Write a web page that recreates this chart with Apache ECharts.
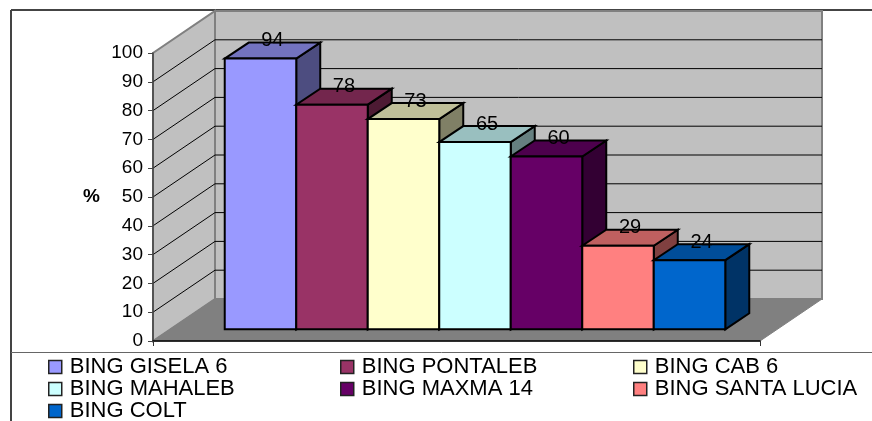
<!DOCTYPE html>
<html><head><meta charset="utf-8">
<style>html,body{margin:0;padding:0;background:#fff}#c{width:872px;height:421px}</style>
<script src="https://cdn.jsdelivr.net/npm/echarts@6/dist/echarts.min.js"></script>
</head><body><div id="c"></div>
<script>
const categories = ['Portainjertos'];
const seriesNames = ['BING GISELA 6','BING PONTALEB','BING CAB 6','BING MAHALEB','BING MAXMA 14','BING SANTA LUCIA','BING COLT'];
const seriesValues = [94,78,73,65,60,29,24];
const seriesColors = ['#9999FF','#993366','#FFFFCC','#CCFFFF','#660066','#FF8080','#0066CC'];
const yTicks = [0,10,20,30,40,50,60,70,80,90,100];
const legendColumns = [[0,3,6],[1,4],[2,5]];

const FONT = '"Liberation Sans", Arial, sans-serif';
const WALL = {dx:62, dy:-42};
const BAR = {dx:24, dy:-16, front:{dx:18.5, dy:-11.7}, ratio:0.1178};

function shade(hex,f){
  const c = echarts.color.parse(hex);
  return `rgb(${Math.round(c[0]*f)},${Math.round(c[1]*f)},${Math.round(c[2]*f)})`;
}
const bw = {stroke:'#000', lineWidth:2, lineJoin:'miter'};

function renderWalls(params, api){
  const size = api.size([1,0])[0];
  const o = api.coord([0,0]);
  const x0 = o[0]-size/2, x1 = o[0]+size/2, y0 = o[1];
  const top = api.coord([0,100])[1];
  const d = WALL;
  const kids = [];
  kids.push({type:'polygon',shape:{points:[[x0,y0],[x0+d.dx,y0+d.dy],[x0+d.dx,top+d.dy],[x0,top]]},style:{fill:'#C0C0C0',stroke:'#808080',lineWidth:2}});
  kids.push({type:'polygon',shape:{points:[[x0+d.dx,y0+d.dy],[x1+d.dx,y0+d.dy],[x1+d.dx,top+d.dy],[x0+d.dx,top+d.dy]]},style:{fill:'#C0C0C0',stroke:'#808080',lineWidth:2}});
  kids.push({type:'polygon',shape:{points:[[x0,y0],[x1,y0],[x1+d.dx,y0+d.dy],[x0+d.dx,y0+d.dy]]},style:{fill:'#808080',stroke:'#808080',lineWidth:1}});
  yTicks.forEach(t=>{
    if(t===0||t===100) return;
    const y = api.coord([0,t])[1];
    kids.push({type:'polyline',shape:{points:[[x0,y],[x0+d.dx,y+d.dy],[x1+d.dx,y+d.dy]]},style:{fill:null,stroke:'#000',lineWidth:1}});
  });
  return {type:'group',children:kids};
}

function barRenderer(i){
  return function(params, api){
    const band = api.size([1,0])[0];
    const w = band*BAR.ratio;
    const n = seriesValues.length;
    const c = api.coord([0,0])[0];
    const x = c - n*w/2 + i*w + BAR.front.dx;
    const yb = api.coord([0,0])[1] + BAR.front.dy;
    const yt = api.coord([0,api.value(1)])[1] + BAR.front.dy;
    const col = seriesColors[i];
    const dx = BAR.dx, dy = BAR.dy;
    return {type:'group',children:[
      {type:'polygon',shape:{points:[[x+w,yb],[x+w+dx,yb+dy],[x+w+dx,yt+dy],[x+w,yt]]},style:{fill:shade(col,0.5),...bw}},
      {type:'polygon',shape:{points:[[x,yt],[x+w,yt],[x+w+dx,yt+dy],[x+dx,yt+dy]]},style:{fill:shade(col,0.75),...bw}},
      {type:'rect',shape:{x:x,y:yt,width:w,height:yb-yt},style:{fill:col,...bw}},
      {type:'text',x:x+w/2+12,y:yt-18,style:{text:String(api.value(1)),fill:'#000',font:'20px '+FONT,align:'center',verticalAlign:'middle'}}
    ]};
  };
}

const series = [{
  type:'custom',name:'walls',silent:true,z:1,
  data:[[0,0]],renderItem:renderWalls,encode:{x:0,y:1},clip:false
}];
seriesNames.forEach((name,i)=>{
  series.push({
    type:'custom',name,z:2,clip:false,silent:true,
    data:[[0,seriesValues[i]]],
    renderItem:barRenderer(i),
    encode:{x:0,y:1},
    itemStyle:{color:seriesColors[i]}
  });
});

const legendX = [48,340,633];
const legends = legendColumns.map((col,k)=>({
  show:true,orient:'vertical',left:legendX[k],top:356,width:235,height:70,padding:0,itemGap:0,itemWidth:13,itemHeight:13,
  icon:'rect',selectedMode:false,
  data:col.map(i=>seriesNames[i]),
  itemStyle:{borderColor:'#222',borderWidth:1.5},
  textStyle:{fontFamily:FONT,fontSize:22,color:'#000',padding:[0,0,0,3]}
}));

const chart = echarts.init(document.getElementById('c'),null,{renderer:'canvas'});
chart.setOption({
  animation:false,backgroundColor:'#fff',
  grid:{left:153,top:53,width:607,height:288,containLabel:false},
  xAxis:{type:'category',data:categories,z:5,
    axisLine:{show:true,lineStyle:{color:'#000',width:1.5}},
    axisTick:{show:true,alignWithLabel:false,length:5,lineStyle:{color:'#333'}},
    axisLabel:{show:false},splitLine:{show:false}},
  yAxis:{type:'value',min:0,max:100,interval:10,z:5,
    name:'%',nameLocation:'middle',nameRotate:0,nameGap:53,
    nameTextStyle:{fontFamily:FONT,fontSize:19,fontWeight:'bold',color:'#000'},
    axisLine:{show:true,lineStyle:{color:'#444',width:1.5}},
    axisTick:{show:true,length:5,lineStyle:{color:'#444'}},
    axisLabel:{fontFamily:FONT,fontSize:19,color:'#000',margin:10},
    splitLine:{show:false}},
  legend:legends,
  series,
  graphic:[
    {type:'line',silent:true,shape:{x1:11,y1:10,x2:872,y2:10},style:{stroke:'#444',lineWidth:2}},
    {type:'line',silent:true,shape:{x1:11,y1:10,x2:11,y2:421},style:{stroke:'#444',lineWidth:2}},
    {type:'line',silent:true,shape:{x1:11,y1:352.5,x2:872,y2:352.5},style:{stroke:'#666',lineWidth:1}}
  ]
});
</script></body></html>
